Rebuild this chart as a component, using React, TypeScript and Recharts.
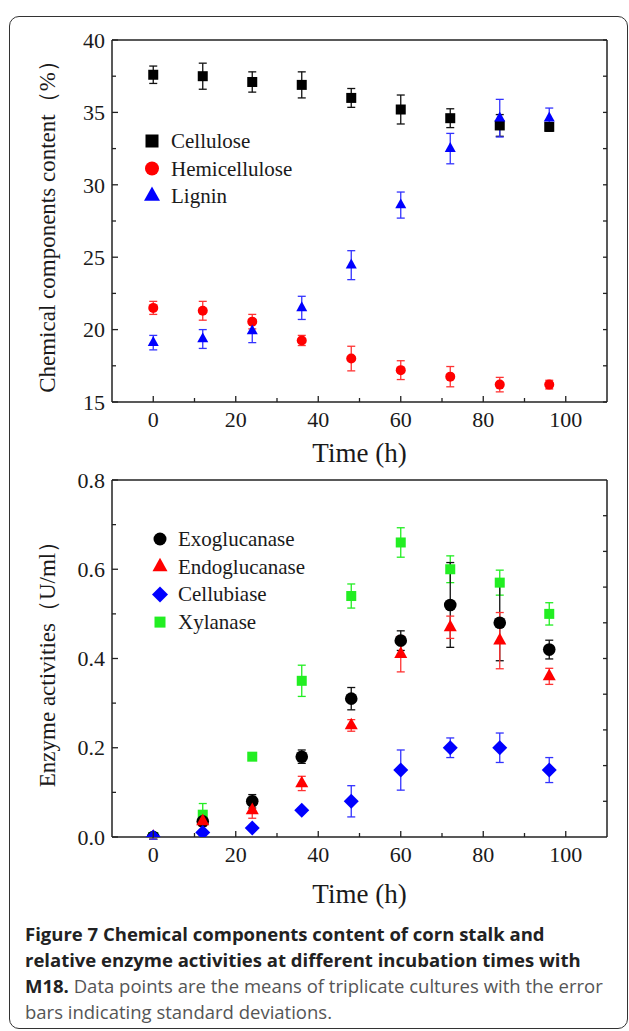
import { ScatterChart, Scatter, XAxis, YAxis, ErrorBar } from "recharts";

// sampling times (h)
const hours = [0, 12, 24, 36, 48, 60, 72, 84, 96];

// chemical components content (%)
const celluloseMean = [37.6, 37.5, 37.1, 36.9, 36.0, 35.2, 34.6, 34.1, 34.0];
const celluloseSd = [0.6, 0.9, 0.7, 0.9, 0.65, 1.0, 0.65, 0.75, 0.3];
const hemiMean = [21.5, 21.3, 20.55, 19.25, 18.0, 17.2, 16.75, 16.2, 16.2];
const hemiSd = [0.45, 0.65, 0.5, 0.35, 0.85, 0.65, 0.7, 0.5, 0.3];
const ligninMean = [19.1, 19.35, 19.9, 21.5, 24.45, 28.6, 32.5, 34.6, 34.6];
const ligninSd = [0.5, 0.65, 0.8, 0.8, 1.0, 0.9, 1.05, 1.3, 0.7];

// enzyme activities (U/ml)
const exoMean = [0, 0.035, 0.08, 0.18, 0.31, 0.44, 0.52, 0.48, 0.42];
const exoSd = [0.005, 0.01, 0.015, 0.015, 0.025, 0.022, 0.095, 0.085, 0.021];
const endoMean = [0, 0.035, 0.06, 0.12, 0.25, 0.41, 0.47, 0.44, 0.36];
const endoSd = [0.005, 0.01, 0.018, 0.016, 0.013, 0.04, 0.025, 0.063, 0.018];
const cellubiaseMean = [0, 0.01, 0.02, 0.06, 0.08, 0.15, 0.2, 0.2, 0.15];
const cellubiaseSd = [0.005, 0.005, 0.005, 0.005, 0.035, 0.045, 0.022, 0.033, 0.028];
const xylanaseMean = [0, 0.05, 0.18, 0.35, 0.54, 0.66, 0.6, 0.57, 0.5];
const xylanaseSd = [0.005, 0.025, 0.003, 0.035, 0.027, 0.033, 0.03, 0.028, 0.025];

// ticks
const xTicks = [0, 10, 20, 30, 40, 50, 60, 70, 80, 90, 100];
const xTopTicks = [2, 14, 26, 38, 50, 62, 74, 86, 98];
const compTicks = [15, 17.5, 20, 22.5, 25, 27.5, 30, 32.5, 35, 37.5, 40];
const enzTicks = [0, 0.1, 0.2, 0.3, 0.4, 0.5, 0.6, 0.7, 0.8];
const enzRightTicks = [0.08, 0.16, 0.24, 0.32, 0.4, 0.48, 0.56, 0.64, 0.72];

const toRows = (mean: number[], sd: number[]) =>
  hours.map((h, i) => ({ x: h, y: mean[i], err: sd[i] }));

const SERIF = "'Liberation Serif', 'Times New Roman', serif";
const INK = "#1a1a1a";
const FRAME = { stroke: "#222", strokeWidth: 1.5 };

// marker shapes
const square = (s: number, c: string) => (p: any) =>
  <rect x={p.cx - s / 2} y={p.cy - s / 2} width={s} height={s} fill={c} />;
const circle = (r: number, c: string) => (p: any) =>
  <circle cx={p.cx} cy={p.cy} r={r} fill={c} />;
const triangle = (w: number, c: string) => (p: any) => {
  const h = w * 0.9;
  return (
    <polygon
      points={`${p.cx},${p.cy - (2 * h) / 3} ${p.cx - w / 2},${p.cy + h / 3} ${p.cx + w / 2},${p.cy + h / 3}`}
      fill={c}
    />
  );
};
const diamond = (w: number, c: string) => (p: any) =>
  <polygon
    points={`${p.cx},${p.cy - w / 2} ${p.cx + w / 2},${p.cy} ${p.cx},${p.cy + w / 2} ${p.cx - w / 2},${p.cy}`}
    fill={c}
  />;

// ticks drawn inward, like the original plot
const bottomTick = (p: any) => {
  const v = p.payload.value;
  const major = v % 20 === 0;
  return (
    <g>
      <line x1={p.x} y1={p.y} x2={p.x} y2={p.y - (major ? 6 : 4)} stroke="#222" strokeWidth={1.3} />
      {major && (
        <text x={p.x} y={p.y + 25} textAnchor="middle" fontFamily={SERIF} fontSize={22} fill={INK}>
          {v}
        </text>
      )}
    </g>
  );
};
const topTick = (p: any) => (
  <line x1={p.x} y1={p.y} x2={p.x} y2={p.y + 4} stroke="#222" strokeWidth={1.3} />
);
const leftTick = (isMajor: (v: number) => boolean, fmt: (v: number) => string) => (p: any) => {
  const v = p.payload.value;
  const major = isMajor(v);
  return (
    <g>
      <line x1={p.x} y1={p.y} x2={p.x + (major ? 6 : 4)} y2={p.y} stroke="#222" strokeWidth={1.3} />
      {major && (
        <text x={p.x - 7} y={p.y} dy="0.35em" textAnchor="end" fontFamily={SERIF} fontSize={22} fill={INK}>
          {fmt(v)}
        </text>
      )}
    </g>
  );
};
const rightTick = (p: any) => (
  <line x1={p.x} y1={p.y} x2={p.x - 4} y2={p.y} stroke="#222" strokeWidth={1.3} />
);

const compMajor = (v: number) => v % 5 === 0;
const enzMajor = (v: number) => Math.round(v * 10) % 2 === 0;

function Frame({ children, yDomain, yTicks, rightTicks, yLeftTick, yLabel, bottom, xLabelOffset }: any) {
  return (
    <ScatterChart width={629} height={480} margin={{ top: 30, right: 12, bottom, left: 32 }}>
      <XAxis
        xAxisId="b"
        type="number"
        dataKey="x"
        domain={[-10, 110]}
        allowDataOverflow
        ticks={xTicks}
        interval={0}
        tick={bottomTick}
        tickLine={false}
        tickSize={0}
        tickMargin={0}
        axisLine={FRAME}
        height={70}
        label={{
          value: "Time (h)",
          position: "insideBottom",
          offset: xLabelOffset,
          style: { fontFamily: SERIF, fontSize: 27, fill: INK },
        }}
      />
      <XAxis
        xAxisId="t"
        orientation="top"
        type="number"
        domain={[-10, 110]}
        allowDataOverflow
        ticks={xTopTicks}
        interval={0}
        tick={topTick}
        tickLine={false}
        tickSize={0}
        tickMargin={0}
        axisLine={FRAME}
        height={10}
      />
      <YAxis
        yAxisId="l"
        type="number"
        dataKey="y"
        domain={yDomain}
        allowDataOverflow
        ticks={yTicks}
        interval={0}
        tick={yLeftTick}
        tickLine={false}
        tickSize={0}
        tickMargin={0}
        axisLine={FRAME}
        width={80}
        label={{
          value: yLabel,
          angle: -90,
          position: "insideLeft",
          offset: 15,
          style: { textAnchor: "middle", fontFamily: SERIF, fontSize: 23, fill: INK },
        }}
      />
      <YAxis
        yAxisId="r"
        orientation="right"
        type="number"
        domain={yDomain}
        allowDataOverflow
        ticks={rightTicks}
        interval={0}
        tick={rightTick}
        tickLine={false}
        tickSize={0}
        tickMargin={0}
        axisLine={FRAME}
        width={10}
      />
      {children}
    </ScatterChart>
  );
}

const series = (name: string, rows: any[], shape: any, barColor: string) => (
  <Scatter
    key={name}
    name={name}
    data={rows}
    xAxisId="b"
    yAxisId="l"
    shape={shape}
    isAnimationActive={false}
  >
    <ErrorBar dataKey="err" direction="y" width={4} stroke={barColor} strokeWidth={1.3} />
  </Scatter>
);

const topLegend = [
  { label: "Cellulose", marker: square(13, "#000") },
  { label: "Hemicellulose", marker: circle(7, "#ff0000") },
  { label: "Lignin", marker: triangle(16, "#0000ff") },
];
const bottomLegend = [
  { label: "Exoglucanase", marker: circle(6.5, "#000") },
  { label: "Endoglucanase", marker: triangle(15, "#ff0000") },
  { label: "Cellubiase", marker: diamond(16, "#0000ff") },
  { label: "Xylanase", marker: square(11, "#22ee22") },
];

function LegendBox({ items, x, y, step, textX }: any) {
  return (
    <svg width={629} height={480} style={{ position: "absolute", left: 0, top: 0, pointerEvents: "none" }}>
      {items.map((it: any, i: number) => (
        <g key={it.label}>
          {it.marker({ cx: x, cy: y + i * step })}
          <text x={textX} y={y + i * step + 7} fontFamily={SERIF} fontSize={21} fill={INK}>
            {it.label}
          </text>
        </g>
      ))}
    </svg>
  );
}

export default function App() {
  return (
    <div style={{ position: "absolute", left: 0, top: 0, width: 629, height: 1031, background: "#fff", overflow: "hidden" }}>
      <div
        style={{
          position: "absolute",
          left: 9,
          top: 16,
          width: 619,
          height: 1013,
          border: "1.5px solid #333",
          borderRadius: 10,
          boxSizing: "border-box",
        }}
      />

      <div style={{ position: "absolute", left: 0, top: 0 }}>
        <Frame
          yDomain={[15, 40]}
          yTicks={compTicks}
          rightTicks={compTicks}
          yLeftTick={leftTick(compMajor, (v) => String(v))}
          yLabel="Chemical components content（%）"
          bottom={8}
          xLabelOffset={10}
        >
          {series("Cellulose", toRows(celluloseMean, celluloseSd), square(10, "#000"), "#111")}
          {series("Hemicellulose", toRows(hemiMean, hemiSd), circle(5, "#ff0000"), "#ff3333")}
          {series("Lignin", toRows(ligninMean, ligninSd), triangle(11, "#0000ff"), "#3333ff")}
        </Frame>
        <LegendBox items={topLegend} x={152} y={141} step={27.5} textX={171} />
      </div>

      <div style={{ position: "absolute", left: 0, top: 440 }}>
        <Frame
          yDomain={[0, 0.8]}
          yTicks={enzTicks}
          rightTicks={enzRightTicks}
          yLeftTick={leftTick(enzMajor, (v) => v.toFixed(1))}
          yLabel="Enzyme activities（U/ml）"
          bottom={13}
          xLabelOffset={4}
        >
          {series("Xylanase", toRows(xylanaseMean, xylanaseSd), square(10, "#22ee22"), "#22ee22")}
          {series("Exoglucanase", toRows(exoMean, exoSd), circle(6.3, "#000"), "#111")}
          {series("Endoglucanase", toRows(endoMean, endoSd), triangle(13, "#ff0000"), "#ff3333")}
          {series("Cellubiase", toRows(cellubiaseMean, cellubiaseSd), diamond(15, "#0000ff"), "#3333ff")}
        </Frame>
        <LegendBox items={bottomLegend} x={160} y={99} step={27.7} textX={178} />
      </div>

      <div
        style={{
          position: "absolute",
          left: 25,
          top: 921,
          fontFamily: "'Open Sans', sans-serif",
          fontSize: 18.5,
          lineHeight: "26px",
          color: "#555",
          whiteSpace: "nowrap",
        }}
      >
        <b style={{ color: "#222" }}>Figure 7 Chemical components content of corn stalk and</b>
        <br />
        <b style={{ color: "#222" }}>relative enzyme activities at different incubation times with</b>
        <br />
        <b style={{ color: "#222" }}>M18.</b> Data points are the means of triplicate cultures with the error
        <br />
        bars indicating standard deviations.
      </div>
    </div>
  );
}
